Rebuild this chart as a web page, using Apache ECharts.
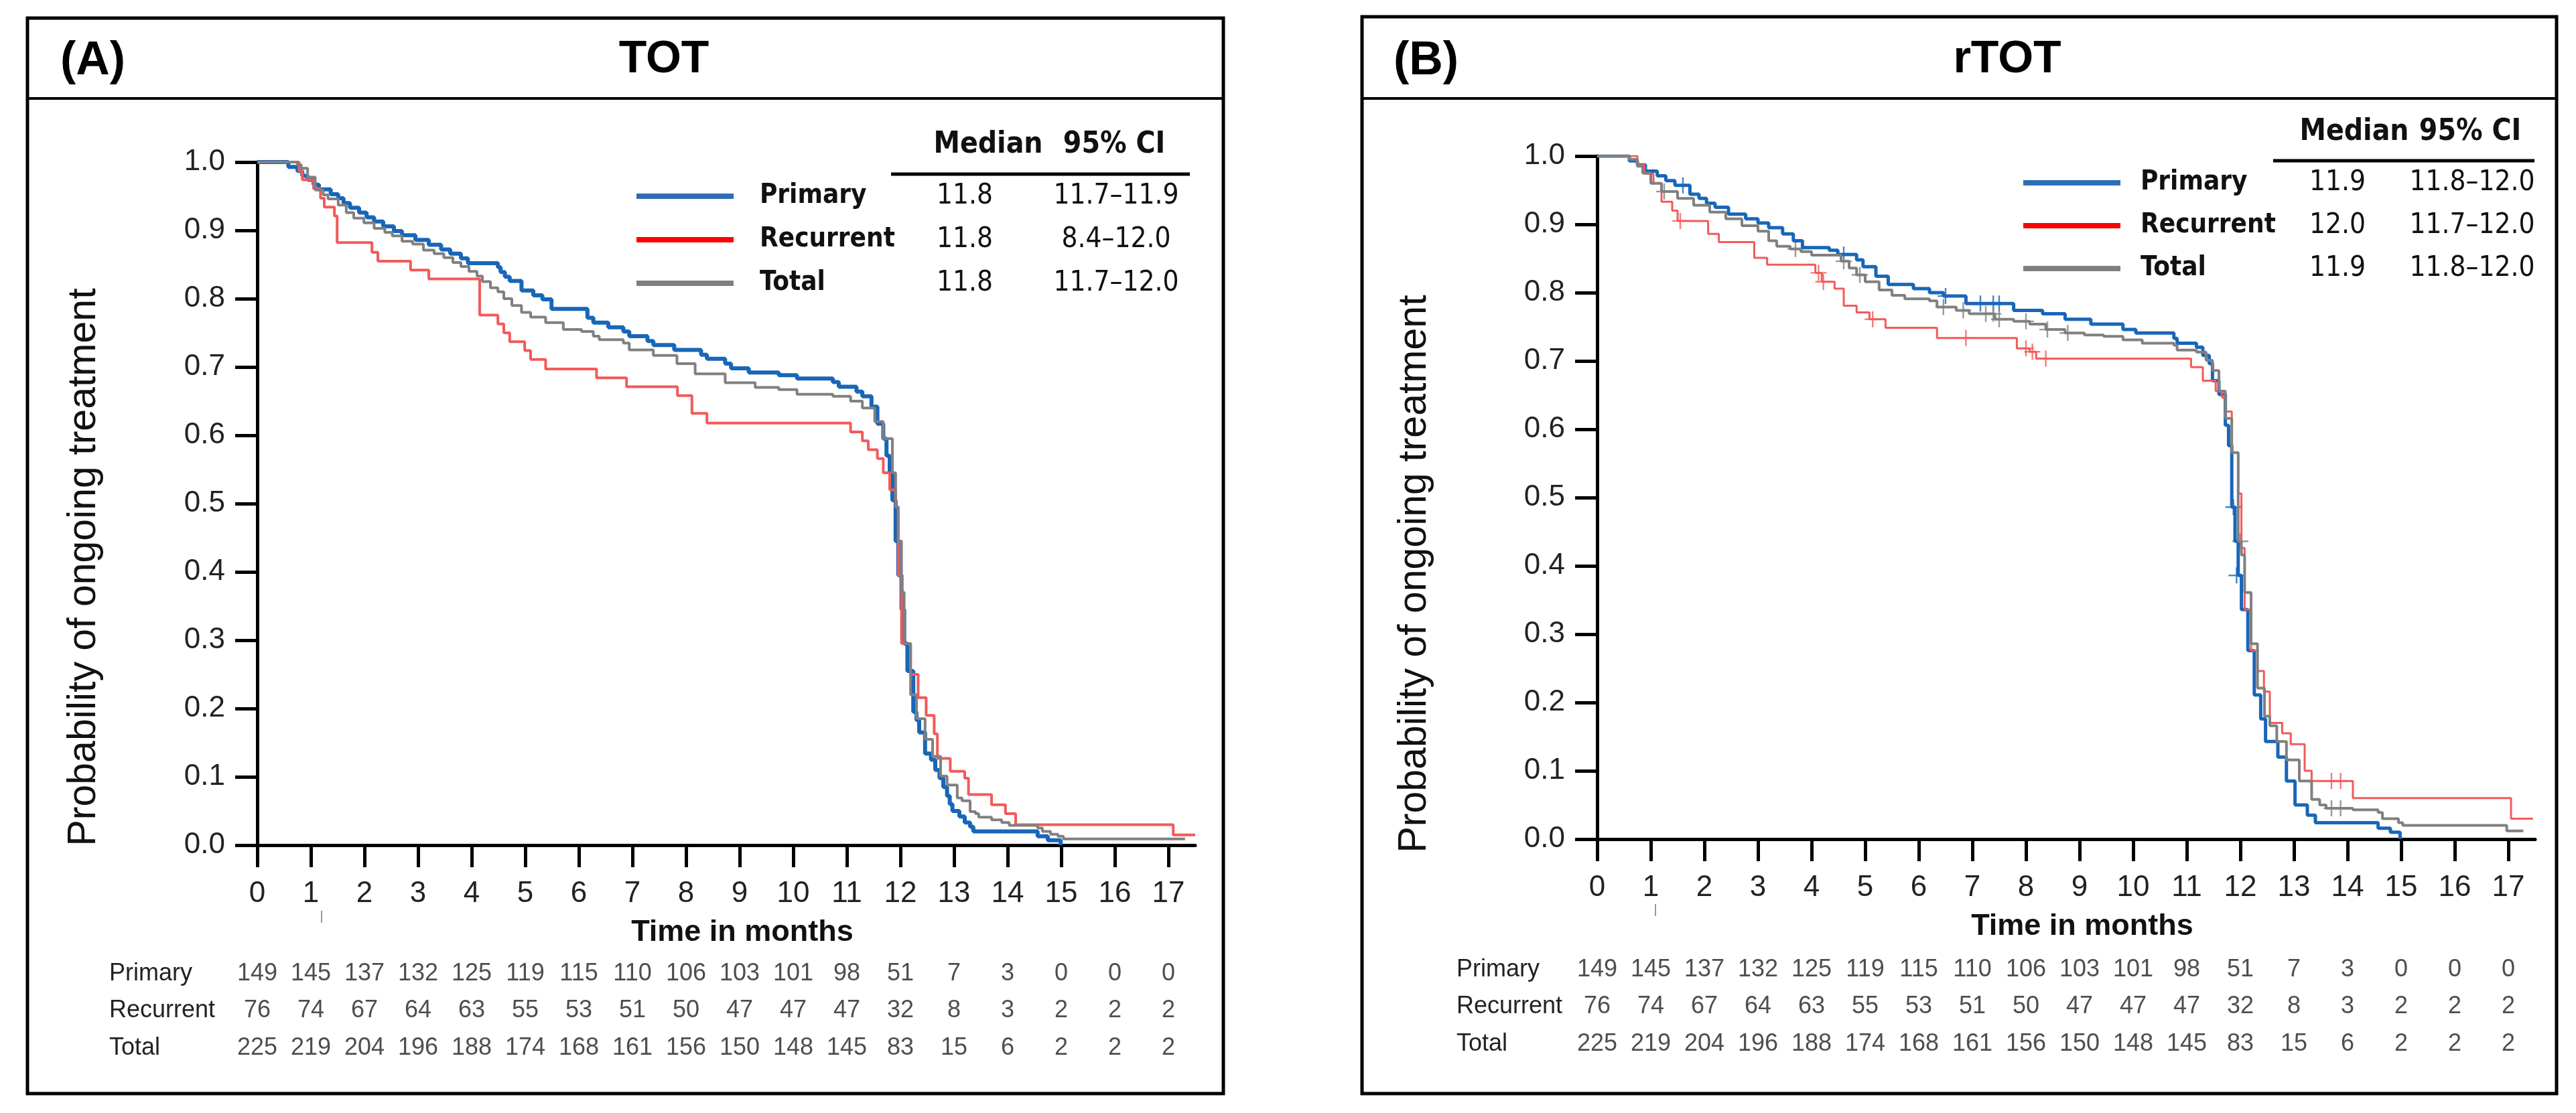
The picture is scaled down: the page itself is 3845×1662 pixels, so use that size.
<!DOCTYPE html>
<html>
<head>
<meta charset="utf-8">
<script src="https://cdn.jsdelivr.net/npm/echarts@6/dist/echarts.min.js"></script>
<style>
html,body{margin:0;padding:0;background:#fff;}
#chart{width:3845px;height:1662px;}
</style>
</head>
<body>
<div id="chart"></div>
<script>
// ---------------- DATA ----------------
const groups = ['Primary', 'Recurrent', 'Total'];
const xTicks = [0,1,2,3,4,5,6,7,8,9,10,11,12,13,14,15,16,17];
const yTicks = [0,0.1,0.2,0.3,0.4,0.5,0.6,0.7,0.8,0.9,1.0];

const riskTimes = [0,1,2,3,4,5,6,7,8,9,10,11,12,13,14,15,16,17];
const riskPrimary   = [149,145,137,132,125,119,115,110,106,103,101,98,51,7,3,0,0,0];
const riskRecurrent = [76,74,67,64,63,55,53,51,50,47,47,47,32,8,3,2,2,2];
const riskTotal     = [225,219,204,196,188,174,168,161,156,150,148,145,83,15,6,2,2,2];

const medianA = ['11.8', '11.8', '11.8'];
const ciA     = ['11.7–11.9', '8.4–12.0', '11.7–12.0'];
const medianB = ['11.9', '12.0', '11.9'];
const ciB     = ['11.8–12.0', '11.7–12.0', '11.8–12.0'];

// (A) TOT  — Kaplan-Meier steps [month, probability]
const totPrimary = [[0,1],[0.58,0.993],[0.75,0.987],[0.84,0.980],[0.94,0.974],[1.05,0.967],[1.15,0.960],[1.37,0.953],[1.51,0.947],[1.61,0.940],[1.73,0.933],[1.9,0.926],[2.04,0.919],[2.18,0.913],[2.35,0.906],[2.55,0.899],[2.7,0.893],[2.95,0.886],[3.2,0.879],[3.43,0.872],[3.6,0.866],[3.8,0.859],[3.93,0.852],[4.49,0.846],[4.54,0.839],[4.62,0.832],[4.71,0.826],[4.93,0.812],[5.15,0.805],[5.32,0.799],[5.49,0.785],[6.16,0.772],[6.27,0.765],[6.55,0.758],[6.83,0.752],[6.94,0.745],[7.28,0.738],[7.39,0.732],[7.78,0.725],[8.28,0.718],[8.39,0.712],[8.73,0.705],[8.84,0.698],[9.17,0.692],[9.73,0.688],[10.07,0.683],[10.74,0.678],[10.85,0.671],[11.18,0.664],[11.29,0.657],[11.46,0.642],[11.57,0.617],[11.68,0.595],[11.74,0.57],[11.8,0.545],[11.85,0.505],[11.91,0.445],[11.96,0.395],[12.02,0.345],[12.07,0.295],[12.13,0.255],[12.24,0.195],[12.3,0.183],[12.35,0.165],[12.46,0.134],[12.57,0.125],[12.65,0.11],[12.73,0.098],[12.8,0.085],[12.87,0.072],[12.92,0.06],[12.97,0.05],[13.1,0.042],[13.2,0.033],[13.3,0.027],[13.36,0.02],[14.56,0.013],[14.75,0.007],[14.99,0]];
const totRecurrent = [[0,1],[0.78,0.987],[0.84,0.974],[1.05,0.961],[1.18,0.947],[1.25,0.934],[1.44,0.921],[1.49,0.882],[2.14,0.868],[2.25,0.855],[2.86,0.842],[3.2,0.829],[4.15,0.776],[4.49,0.763],[4.6,0.75],[4.71,0.737],[4.99,0.724],[5.1,0.711],[5.38,0.697],[6.33,0.684],[6.89,0.671],[7.84,0.658],[8.11,0.632],[8.39,0.618],[11.07,0.605],[11.29,0.592],[11.4,0.579],[11.57,0.566],[11.68,0.545],[11.8,0.52],[11.91,0.495],[11.96,0.395],[12.02,0.295],[12.19,0.25],[12.33,0.216],[12.48,0.19],[12.63,0.163],[12.69,0.127],[12.93,0.108],[13.2,0.098],[13.27,0.074],[13.7,0.059],[13.96,0.046],[14.15,0.03],[17.09,0.015],[17.5,0.015]];
const totTotal = [[0,1],[0.75,0.996],[0.82,0.991],[0.94,0.978],[1.08,0.959],[1.23,0.952],[1.32,0.946],[1.51,0.937],[1.66,0.926],[1.8,0.918],[1.99,0.911],[2.18,0.903],[2.38,0.897],[2.52,0.892],[2.7,0.884],[2.9,0.88],[3.1,0.871],[3.3,0.866],[3.48,0.86],[3.65,0.853],[3.8,0.847],[3.95,0.84],[4.1,0.833],[4.2,0.825],[4.35,0.816],[4.49,0.81],[4.6,0.8],[4.75,0.79],[4.93,0.78],[5.1,0.773],[5.38,0.765],[5.71,0.755],[6.05,0.752],[6.27,0.745],[6.38,0.74],[6.83,0.735],[6.94,0.725],[7.39,0.717],[7.83,0.705],[8.17,0.69],[8.73,0.677],[9.29,0.67],[9.73,0.667],[10.07,0.66],[10.74,0.657],[11.07,0.65],[11.29,0.64],[11.52,0.62],[11.68,0.595],[11.85,0.545],[11.91,0.495],[11.96,0.445],[12.02,0.37],[12.07,0.295],[12.19,0.22],[12.3,0.185],[12.46,0.155],[12.6,0.13],[12.75,0.101],[12.87,0.088],[13.06,0.069],[13.15,0.065],[13.3,0.049],[13.4,0.046],[13.46,0.041],[13.7,0.037],[13.89,0.033],[14.03,0.029],[14.56,0.025],[14.65,0.02],[14.8,0.016],[14.94,0.013],[15.04,0.009],[17.31,0.009]];

// (B) rTOT
const rtotPrimary = [[0,1],[0.6,0.993],[0.75,0.987],[0.9,0.978],[1.12,0.971],[1.28,0.964],[1.45,0.957],[1.73,0.944],[1.9,0.938],[2.04,0.931],[2.2,0.925],[2.45,0.915],[2.77,0.908],[3.0,0.902],[3.2,0.895],[3.46,0.886],[3.66,0.876],[3.83,0.866],[4.33,0.862],[4.49,0.856],[4.84,0.848],[4.96,0.838],[5.2,0.824],[5.43,0.812],[5.9,0.806],[6.2,0.80],[6.46,0.795],[6.88,0.784],[7.77,0.774],[8.31,0.769],[8.73,0.761],[9.21,0.754],[9.81,0.746],[10.05,0.741],[10.76,0.733],[10.82,0.726],[11.18,0.72],[11.3,0.708],[11.42,0.696],[11.48,0.671],[11.6,0.651],[11.72,0.606],[11.78,0.576],[11.84,0.486],[11.9,0.436],[11.96,0.386],[12.02,0.336],[12.14,0.276],[12.26,0.211],[12.38,0.176],[12.47,0.143],[12.7,0.12],[12.86,0.085],[13.02,0.05],[13.25,0.035],[13.4,0.024],[14.57,0.016],[14.8,0.01],[14.98,0]];
const rtotRecurrent = [[0,1],[0.75,0.987],[0.88,0.974],[1.05,0.96],[1.2,0.933],[1.4,0.92],[1.5,0.905],[2.07,0.886],[2.27,0.874],[2.93,0.851],[3.17,0.841],[4.07,0.829],[4.19,0.816],[4.43,0.806],[4.6,0.781],[4.84,0.771],[5.08,0.761],[5.38,0.7485],[6.34,0.7335],[7.83,0.7185],[8.07,0.7135],[8.19,0.7035],[11.08,0.691],[11.3,0.671],[11.54,0.656],[11.66,0.646],[11.72,0.626],[11.84,0.566],[11.96,0.506],[12.02,0.426],[12.08,0.336],[12.2,0.276],[12.32,0.246],[12.44,0.216],[12.55,0.17],[12.78,0.155],[12.94,0.139],[13.2,0.1],[13.33,0.085],[14.1,0.06],[17.05,0.03],[17.46,0.03]];
const rtotTotal = [[0,1],[0.6,0.995],[0.75,0.985],[0.85,0.975],[1.0,0.96],[1.2,0.948],[1.5,0.938],[1.8,0.928],[2.1,0.918],[2.4,0.908],[2.7,0.898],[3.0,0.89],[3.2,0.876],[3.35,0.868],[3.6,0.864],[3.8,0.86],[4.0,0.855],[4.55,0.846],[4.7,0.836],[4.84,0.826],[5.0,0.816],[5.26,0.804],[5.5,0.796],[5.74,0.791],[6.2,0.788],[6.34,0.779],[6.7,0.774],[6.94,0.769],[7.42,0.761],[7.77,0.758],[8.07,0.754],[8.37,0.746],[8.73,0.741],[9.09,0.738],[9.45,0.736],[9.81,0.731],[10.17,0.726],[10.76,0.723],[10.82,0.716],[11.18,0.713],[11.36,0.701],[11.48,0.686],[11.6,0.656],[11.72,0.616],[11.84,0.566],[11.96,0.436],[12.02,0.416],[12.08,0.361],[12.2,0.286],[12.32,0.221],[12.45,0.18],[12.55,0.166],[12.68,0.143],[12.86,0.116],[13.1,0.085],[13.33,0.058],[13.48,0.05],[13.6,0.045],[14.1,0.043],[14.57,0.039],[14.65,0.03],[14.95,0.024],[15.03,0.02],[16.97,0.012],[17.28,0.012]];

// censoring marks (rTOT)
const rtotPrimaryCensor   = [[1.6,0.957],[4.6,0.856],[6.5,0.795],[7.15,0.784],[7.39,0.784],[7.5,0.784],[11.87,0.486],[11.93,0.386]];
const rtotRecurrentCensor = [[1.55,0.905],[4.13,0.829],[4.22,0.816],[5.14,0.761],[6.88,0.7335],[8.0,0.7185],[8.12,0.7135],[8.37,0.7035],[13.7,0.085],[13.87,0.085]];
const rtotTotalCensor     = [[1.25,0.948],[3.7,0.864],[4.6,0.846],[4.9,0.826],[6.46,0.779],[6.83,0.774],[7.25,0.769],[7.39,0.769],[7.5,0.761],[8.0,0.758],[8.4,0.746],[8.78,0.741],[12.0,0.436],[13.7,0.045],[13.87,0.045]];

// ---------------- STYLE ----------------
const ARIAL = '"Liberation Sans", Arial, sans-serif';
const NARROW = '"Liberation Sans Narrow", "DejaVu Sans Condensed", "Liberation Sans", sans-serif';
const lineColors = { Primary: '#1866B8', Recurrent: '#F25A5A', Total: '#808080' };
const legendColors = { Primary: '#2E6DB4', Recurrent: '#FF0000', Total: '#7F7F7F' };
const PLUS = 'path://M-1,-10L1,-10L1,-1L10,-1L10,1L1,1L1,10L-1,10L-1,1L-10,1L-10,-1L-1,-1Z';

const chart = echarts.init(document.getElementById('chart'), null, { renderer: 'canvas' });

function plotAxes(gridIndex) {
  return {
    x: {
      type: 'value', gridIndex, min: 0, max: 17.5,
      axisLine: { show: true, lineStyle: { color: '#000', width: 5 } },
      axisTick: { show: true, length: 33, lineStyle: { color: '#000', width: 5 }, customValues: xTicks },
      axisLabel: { customValues: xTicks, margin: 51, fontSize: 44, fontFamily: ARIAL, color: '#222' },
      splitLine: { show: false },
      name: 'Time in months', nameLocation: 'middle', nameGap: 108,
      nameTextStyle: { fontSize: 45, fontWeight: 'bold', fontFamily: ARIAL, color: '#111', padding: [0, 0, 0, 48] }
    },
    y: {
      type: 'value', gridIndex, min: 0, max: 1, interval: 0.1,
      axisLine: { show: true, lineStyle: { color: '#000', width: 5 } },
      axisTick: { show: true, length: 33, lineStyle: { color: '#000', width: 5 } },
      axisLabel: { margin: 48, fontSize: 44, fontFamily: ARIAL, color: '#222', formatter: v => v.toFixed(1) },
      splitLine: { show: false }
    }
  };
}
function riskAxes(gridIndex, margin) {
  return {
    x: { type: 'value', gridIndex, min: 0, max: 17.5, show: false },
    y: {
      type: 'category', gridIndex, data: groups, inverse: true,
      axisLine: { show: false }, axisTick: { show: false }, splitLine: { show: false },
      axisLabel: { align: 'left', margin, fontSize: 36, fontFamily: ARIAL, color: '#222' }
    }
  };
}
const aP = plotAxes(0), aR = riskAxes(1, 221), bP = plotAxes(2), bR = riskAxes(3, 210);

function kmSeries(name, data, axisIdx, width) {
  return {
    name, type: 'line', step: 'end', data, showSymbol: false, symbol: 'none',
    xAxisIndex: axisIdx, yAxisIndex: axisIdx, silent: true,
    lineStyle: { color: lineColors[name], width }, itemStyle: { color: lineColors[name] }
  };
}
function censorSeries(name, data, axisIdx) {
  return {
    name: name + ' censored', type: 'scatter', data, symbol: PLUS, symbolSize: 24,
    xAxisIndex: axisIdx, yAxisIndex: axisIdx, silent: true,
    itemStyle: { color: lineColors[name] }
  };
}
function riskSeries(counts, row, axisIdx) {
  return {
    type: 'scatter', xAxisIndex: axisIdx, yAxisIndex: axisIdx, silent: true,
    data: riskTimes.map((t, i) => [t, row, counts[i]]),
    symbolSize: 1, itemStyle: { color: 'rgba(0,0,0,0)' },
    label: { show: true, position: 'inside', formatter: p => String(p.value[2]), fontSize: 36, fontFamily: ARIAL, color: '#222' }
  };
}
function legendRich(nameW, spacer, medW, ciW) {
  const base = { fontFamily: NARROW, color: '#111', lineHeight: 42 };
  return {
    s: Object.assign({ width: spacer, fontSize: 40 }, base),
    n: Object.assign({ width: nameW, fontSize: 40, fontWeight: 'bold' }, base),
    m: Object.assign({ width: medW, fontSize: 42, align: 'center' }, base),
    c: Object.assign({ width: ciW, fontSize: 42, align: 'center' }, base)
  };
}
const legendData = groups.map(g => ({ name: g, icon: 'rect', itemStyle: { color: legendColors[g] } }));

const option = {
  animation: false,
  backgroundColor: '#fff',
  grid: [
    { left: 384, top: 242, width: 1400, height: 1020 },
    { left: 384, top: 1426, width: 1400, height: 167 },
    { left: 2384, top: 233, width: 1400, height: 1020 },
    { left: 2384, top: 1420, width: 1400, height: 167 }
  ],
  xAxis: [aP.x, aR.x, bP.x, bR.x],
  yAxis: [aP.y, aR.y, bP.y, bR.y],
  legend: [
    {
      left: 950, top: 272, orient: 'vertical', padding: 0, itemWidth: 145, itemHeight: 8, itemGap: 23,
      selectedMode: false, data: legendData,
      formatter: n => `{s| }{n|${n}}{m|${medianA[groups.indexOf(n)]}}{c|${ciA[groups.indexOf(n)]}}`,
      textStyle: { rich: legendRich(246, 34, 120, 332) }
    },
    {
      left: 3020, top: 252, orient: 'vertical', padding: 0, itemWidth: 145, itemHeight: 8, itemGap: 22,
      selectedMode: false, data: legendData,
      formatter: n => `{s| }{n|${n}}{m|${medianB[groups.indexOf(n)]}}{c|${ciB[groups.indexOf(n)]}}`,
      textStyle: { rich: legendRich(234, 25, 120, 282) }
    }
  ],
  series: [
    kmSeries('Primary', totPrimary, 0, 6),
    kmSeries('Recurrent', totRecurrent, 0, 4),
    kmSeries('Total', totTotal, 0, 4),
    riskSeries(riskPrimary, 'Primary', 1),
    riskSeries(riskRecurrent, 'Recurrent', 1),
    riskSeries(riskTotal, 'Total', 1),
    kmSeries('Primary', rtotPrimary, 2, 5),
    kmSeries('Recurrent', rtotRecurrent, 2, 3),
    kmSeries('Total', rtotTotal, 2, 4),
    censorSeries('Primary', rtotPrimaryCensor, 2),
    censorSeries('Recurrent', rtotRecurrentCensor, 2),
    censorSeries('Total', rtotTotalCensor, 2),
    riskSeries(riskPrimary, 'Primary', 3),
    riskSeries(riskRecurrent, 'Recurrent', 3),
    riskSeries(riskTotal, 'Total', 3)
  ],
  graphic: [
    // panel frames
    { type: 'rect', shape: { x: 41, y: 27, width: 1785, height: 1606 }, style: { fill: 'none', stroke: '#000', lineWidth: 5 }, silent: true },
    { type: 'line', shape: { x1: 41, y1: 147, x2: 1826, y2: 147 }, style: { stroke: '#000', lineWidth: 4 }, silent: true },
    { type: 'rect', shape: { x: 2033, y: 25, width: 1783, height: 1608 }, style: { fill: 'none', stroke: '#000', lineWidth: 5 }, silent: true },
    { type: 'line', shape: { x1: 2033, y1: 147, x2: 3816, y2: 147 }, style: { stroke: '#000', lineWidth: 4 }, silent: true },
    // headers
    { type: 'text', x: 90, y: 92, style: { text: '(A)', fontSize: 70, fontWeight: 'bold', fontFamily: ARIAL, fill: '#000', align: 'left', verticalAlign: 'middle' } },
    { type: 'text', x: 991, y: 89, style: { text: 'TOT', fontSize: 68, fontWeight: 'bold', fontFamily: ARIAL, fill: '#000', align: 'center', verticalAlign: 'middle' } },
    { type: 'text', x: 2080, y: 92, style: { text: '(B)', fontSize: 70, fontWeight: 'bold', fontFamily: ARIAL, fill: '#000', align: 'left', verticalAlign: 'middle' } },
    { type: 'text', x: 2996, y: 89, style: { text: 'rTOT', fontSize: 68, fontWeight: 'bold', fontFamily: ARIAL, fill: '#000', align: 'center', verticalAlign: 'middle' } },
    // y-axis titles
    { type: 'text', x: 126, y: 847, rotation: Math.PI / 2, style: { text: 'Probability of ongoing treatment', fontSize: 59, fontFamily: ARIAL, fill: '#111', align: 'center', verticalAlign: 'middle' } },
    { type: 'text', x: 2112, y: 857, rotation: Math.PI / 2, style: { text: 'Probability of ongoing treatment', fontSize: 59, fontFamily: ARIAL, fill: '#111', align: 'center', verticalAlign: 'middle' } },
    // median table headers
    { type: 'text', x: 1475, y: 217, style: { text: 'Median', fontSize: 44, fontWeight: 'bold', fontFamily: NARROW, fill: '#111', align: 'center', verticalAlign: 'middle' } },
    { type: 'text', x: 1663, y: 217, style: { text: '95% CI', fontSize: 44, fontWeight: 'bold', fontFamily: NARROW, fill: '#111', align: 'center', verticalAlign: 'middle' } },
    { type: 'line', shape: { x1: 1330, y1: 260, x2: 1776, y2: 260 }, style: { stroke: '#000', lineWidth: 5 }, silent: true },
    { type: 'text', x: 3514, y: 198, style: { text: 'Median', fontSize: 44, fontWeight: 'bold', fontFamily: NARROW, fill: '#111', align: 'center', verticalAlign: 'middle' } },
    { type: 'text', x: 3687, y: 198, style: { text: '95% CI', fontSize: 44, fontWeight: 'bold', fontFamily: NARROW, fill: '#111', align: 'center', verticalAlign: 'middle' } },
    { type: 'line', shape: { x1: 3393, y1: 240, x2: 3783, y2: 240 }, style: { stroke: '#000', lineWidth: 5 }, silent: true },
    // small stray marks under the "1" tick labels
    { type: 'line', shape: { x1: 480, y1: 1360, x2: 480, y2: 1378 }, style: { stroke: '#999', lineWidth: 2 }, silent: true },
    { type: 'line', shape: { x1: 2471, y1: 1350, x2: 2471, y2: 1368 }, style: { stroke: '#999', lineWidth: 2 }, silent: true }
  ]
};
chart.setOption(option);
</script>
</body>
</html>
